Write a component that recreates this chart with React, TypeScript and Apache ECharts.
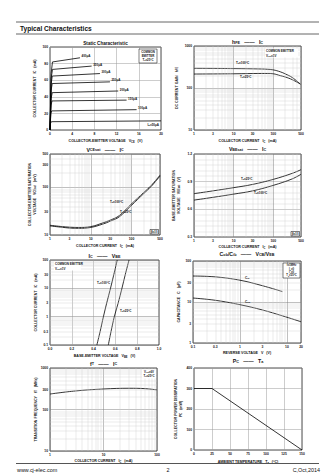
import React, { useEffect, useRef } from 'react';
import * as echarts from 'echarts';

const FONT = '"Liberation Sans", Arial, Helvetica, sans-serif';

// ---------- Fig.1 Static characteristic : VCE (V) vs IC (mA) ----------
const staticIbLabels = ['400μA', '350μA', '300μA', '250μA', '200μA', '150μA', '100μA', 'I{s|B}=50μA'];
const staticIb400 = [[0, 0], [0.2, 68], [0.45, 82], [5.4, 87]];
const staticIb350 = [[0, 0], [0.2, 62], [0.45, 73], [7.5, 77]];
const staticIb300 = [[0, 0], [0.2, 55], [0.4, 65], [9, 68]];
const staticIb250 = [[0, 0], [0.2, 48], [0.4, 56], [10.8, 58]];
const staticIb200 = [[0, 0], [0.2, 38], [0.4, 45], [12.3, 47]];
const staticIb150 = [[0, 0], [0.2, 30], [0.35, 35], [13.8, 36]];
const staticIb100 = [[0, 0], [0.15, 20], [0.3, 23], [15.6, 24.5]];
const staticIb50 = [[0, 0], [0.1, 8], [0.25, 10], [20, 11]];
const staticXTicks = [0, 4, 8, 12, 16, 20];
const staticYTicks = [0, 20, 40, 60, 80, 100];

// ---------- Fig.2 hFE vs IC ----------
const hfeIc = [1, 10, 50, 70, 100, 150, 200, 300, 480];
const hfeTa100 = [294, 290, 284, 280, 270, 243, 217, 178, 124];
const hfeTa25 = [215, 218, 222, 222, 218, 197, 183, 158, 124];
const hfeXTicks = [1, 3, 10, 30, 100, 500];
const hfeYTicks = [10, 100, 1000];

// ---------- Fig.3 VCEsat vs IC ----------
const vcesatIc = [1, 2, 3, 5, 10, 20, 30, 50, 100, 200, 300, 500];
const vcesatTa100 = [16, 15, 14.6, 14.4, 15, 18, 20.5, 25.5, 45, 78, 108, 180];
const vcesatTa25 = [15.5, 14.5, 14, 13.8, 14.4, 17, 19.5, 24, 42, 74, 103, 172];
const vcesatXTicks = [1, 3, 10, 30, 100, 500];
const vcesatYTicks = [10, 30, 100, 300, 500];

// ---------- Fig.4 VBEsat vs IC ----------
const vbesatIc = [1, 3, 10, 30, 100, 300, 500];
const vbesatTa25 = [0.77, 0.8, 0.835, 0.87, 0.925, 0.99, 1.03];
const vbesatTa100 = [0.7, 0.73, 0.765, 0.8, 0.86, 0.93, 0.98];
const vbesatXTicks = [1, 3, 10, 30, 100, 500];
const vbesatYTicks = [0.3, 0.6, 0.9, 1.2];

// ---------- Fig.5 IC vs VBE ----------
const vbeIc = [0.1, 0.3, 1, 3, 10, 30, 100];
const vbeTa100 = [0.43, 0.46, 0.49, 0.52, 0.555, 0.585, 0.617];
const vbeTa25 = [0.535, 0.56, 0.59, 0.625, 0.66, 0.69, 0.725];
const vbeXTicks = [0, 0.2, 0.4, 0.6, 0.8, 1.0];
const vbeYTicks = [0.1, 0.3, 1, 3, 10, 30, 100];

// ---------- Fig.6 Cob/Cib vs VCB/VEB ----------
const cibV = [0.1, 0.3, 1, 3, 8];
const cib = [43, 41, 34, 25, 18];
const cobV = [0.1, 0.3, 1, 3, 8, 20];
const cob = [12.5, 11, 8.6, 6.4, 4.6, 3.3];
const capXTicks = [0.1, 0.3, 1, 3, 10, 20];
const capYTicks = [1, 3, 10, 30, 100];

// ---------- Fig.7 fT vs IC ----------
const ftIc = [1, 3, 10, 30, 60, 100];
const ft = [236, 280, 312, 325, 318, 297];
const ftXTicks = [1, 10, 100];
const ftYTicks = [10, 100, 300, 1000];

// ---------- Fig.8 PC vs Ta ----------
const pcTa = [0, 25, 150];
const pc = [300, 300, 0];
const pcXTicks = [0, 25, 50, 75, 100, 125, 150];
const pcYTicks = [0, 100, 200, 300, 400];

const zip = (xs: number[], ys: number[]) => xs.map((x, i) => [x, ys[i]]);
const lg = (v: number) => {
  const r = Math.log10(v);
  const n = Math.round(r);
  return Math.abs(r - n) < 1e-9 ? n : r;
};

interface AxisDef { log: boolean; min: number; max: number; interval?: number; ticks: number[]; digits?: number; minor?: number; }
interface Curve { data: number[][]; smooth: number | boolean; }
interface Panel {
  box: { left: number; top: number; width: number; height: number };
  x: AxisDef; y: AxisDef; xName: string; yName: string; xGap: number; yGap: number;
  title: string; titleY: number; curves: Curve[];
}

const panels: Panel[] = [
  {
    box: { left: 50, top: 47, width: 111, height: 83 },
    x: { log: false, min: 0, max: 20, interval: 4, ticks: staticXTicks, digits: 0 },
    y: { log: false, min: 0, max: 100, interval: 20, ticks: staticYTicks, digits: 0 },
    xName: 'COLLECTOR-EMITTER VOLTAGE   V{s|CE}   (V)', yName: 'COLLECTOR CURRENT   I{s|C}   (mA)',
    xGap: 9, yGap: 13, title: 'Static Characteristic', titleY: 43.5,
    curves: [staticIb400, staticIb350, staticIb300, staticIb250, staticIb200, staticIb150, staticIb100, staticIb50].map((d) => ({ data: d, smooth: false })),
  },
  {
    box: { left: 194, top: 46, width: 107, height: 84 },
    x: { log: true, min: 1, max: 500, ticks: hfeXTicks },
    y: { log: true, min: 10, max: 1000, ticks: hfeYTicks },
    xName: 'COLLECTOR CURRENT   I{s|C}   (mA)', yName: 'DC CURRENT GAIN   h{s|FE}',
    xGap: 9, yGap: 15, title: 'h{s|FE}   ——   I{s|C}', titleY: 42,
    curves: [{ data: zip(hfeIc, hfeTa100), smooth: 0.4 }, { data: zip(hfeIc, hfeTa25), smooth: 0.4 }],
  },
  {
    box: { left: 50, top: 154, width: 110, height: 81 },
    x: { log: true, min: 1, max: 500, ticks: vcesatXTicks },
    y: { log: true, min: 10, max: 500, ticks: vcesatYTicks },
    xName: 'COLLECTOR CURRENT   I{s|C}   (mA)', yName: 'COLLECTOR-EMITTER SATURATION\nVOLTAGE   V{s|CEsat}   (mV)',
    xGap: 9, yGap: 13, title: 'V{s|CEsat}   ——   I{s|C}', titleY: 149.5,
    curves: [{ data: zip(vcesatIc, vcesatTa100), smooth: 0.4 }, { data: zip(vcesatIc, vcesatTa25), smooth: 0.4 }],
  },
  {
    box: { left: 194, top: 154, width: 107, height: 83 },
    x: { log: true, min: 1, max: 500, ticks: vbesatXTicks },
    y: { log: false, min: 0.3, max: 1.2, interval: 0.3, ticks: vbesatYTicks, digits: 1, minor: 5 },
    xName: 'COLLECTOR CURRENT   I{s|C}   (mA)', yName: 'BASE-EMITTER SATURATION\nVOLTAGE   V{s|BEsat}   (V)',
    xGap: 8, yGap: 13, title: 'V{s|BEsat}   ——   I{s|C}', titleY: 149,
    curves: [{ data: zip(vbesatIc, vbesatTa25), smooth: 0.4 }, { data: zip(vbesatIc, vbesatTa100), smooth: 0.4 }],
  },
  {
    box: { left: 50, top: 260, width: 109, height: 85 },
    x: { log: false, min: 0, max: 1.0, interval: 0.2, ticks: vbeXTicks, digits: 1 },
    y: { log: true, min: 0.1, max: 100, ticks: vbeYTicks },
    xName: 'BASE-EMITTER VOLTAGE   V{s|BE}   (V)', yName: 'COLLECTOR CURRENT   I{s|C}   (mA)',
    xGap: 9, yGap: 12, title: 'I{s|C}   ——   V{s|BE}', titleY: 256,
    curves: [{ data: zip(vbeTa100, vbeIc), smooth: 0.3 }, { data: zip(vbeTa25, vbeIc), smooth: 0.3 }],
  },
  {
    box: { left: 193, top: 261, width: 108, height: 82 },
    x: { log: true, min: 0.1, max: 20, ticks: capXTicks },
    y: { log: true, min: 1, max: 100, ticks: capYTicks },
    xName: 'REVERSE VOLTAGE   V   (V)', yName: 'CAPACITANCE   C   (pF)',
    xGap: 8, yGap: 12, title: 'C{s|ob}/C{s|ib}   ——   V{s|CB}/V{s|EB}', titleY: 254,
    curves: [{ data: zip(cibV, cib), smooth: 0.4 }, { data: zip(cobV, cob), smooth: 0.4 }],
  },
  {
    box: { left: 50, top: 368, width: 107, height: 83 },
    x: { log: true, min: 1, max: 100, ticks: ftXTicks },
    y: { log: true, min: 10, max: 1000, ticks: ftYTicks },
    xName: 'COLLECTOR CURRENT   I{s|C}   (mA)', yName: 'TRANSITION FREQUENCY   f{s|T}   (MHz)',
    xGap: 8, yGap: 12, title: 'f{s|T}   ——   I{s|C}', titleY: 363.5,
    curves: [{ data: zip(ftIc, ft), smooth: 0.4 }],
  },
  {
    box: { left: 194, top: 368, width: 108, height: 82 },
    x: { log: false, min: 0, max: 150, interval: 25, ticks: pcXTicks, digits: 0 },
    y: { log: false, min: 0, max: 400, interval: 100, ticks: pcYTicks, digits: 0 },
    xName: 'AMBIENT TEMPERATURE   T{s|a}   (°C)', yName: 'COLLECTOR POWER DISSIPATION\nP{s|C}   (mW)',
    xGap: 10, yGap: 11, title: 'P{s|C}   ——   T{s|a}', titleY: 361,
    curves: [{ data: zip(pcTa, pc), smooth: false }],
  },
];

const tv = (a: AxisDef, v: number) => (a.log ? lg(v) : v);
const fmt = (a: AxisDef, v: number) => (a.digits !== undefined ? v.toFixed(a.digits) : String(v));

const minorLogValues = (a: AxisDef) => {
  const out: number[] = [];
  if (!a.log) return out;
  const d0 = Math.floor(Math.log10(a.min) + 1e-9);
  const d1 = Math.ceil(Math.log10(a.max) - 1e-9);
  for (let d = d0; d <= d1; d++) {
    for (let k = 2; k <= 9; k++) {
      const v = k * Math.pow(10, d);
      if (v > a.min * 1.0001 && v < a.max * 0.9999) out.push(v);
    }
  }
  return out;
};

const rich = (size: number) => ({
  s: { fontSize: size * 0.72, fontWeight: 'bold', fontFamily: FONT, fill: '#111', color: '#111', verticalAlign: 'bottom' },
});

const txt = (x: number, y: number, text: string, o: { size?: number; align?: string; va?: string; bold?: boolean } = {}) => {
  const size = o.size ?? 3.6;
  return {
    type: 'text', x, y, z: 11, silent: true,
    style: {
      text, fill: '#111', fontSize: size, fontWeight: o.bold === false ? 'normal' : 'bold', fontFamily: FONT,
      align: o.align ?? 'left', verticalAlign: o.va ?? 'middle', rich: rich(size),
    },
  };
};
const box = (x: number, y: number, w: number, h: number, stroke: boolean) => ({
  type: 'rect', z: 10, silent: true, shape: { x, y, width: w, height: h },
  style: { fill: '#fff', stroke: stroke ? '#000' : 'none', lineWidth: 0.5 },
});
const hline = (x1: number, x2: number, y: number, w: number) => ({
  type: 'line', z: 10, silent: true, shape: { x1, y1: y, x2, y2: y }, style: { stroke: '#555', lineWidth: w },
});

export default function App() {
  const ref = useRef<HTMLDivElement>(null);
  useEffect(() => {
    const el = ref.current;
    if (!el) return;
    const chart = echarts.init(el, null, { renderer: 'svg' });
    const grid: any[] = [];
    const xAxis: any[] = [];
    const yAxis: any[] = [];
    const series: any[] = [];
    const nameStyle = { fontSize: 3.6, fontWeight: 'bold', fontFamily: FONT, color: '#111', rich: rich(3.6), lineHeight: 4.5 };
    const axisOpt = (a: AxisDef, i: number, name: string, gap: number) => ({
      type: 'value', gridIndex: i,
      min: a.log ? lg(a.min) : a.min, max: a.log ? lg(a.max) : a.max, interval: a.log ? 1 : a.interval,
      axisLine: { show: false }, axisTick: { show: false }, axisLabel: { show: false },
      splitLine: { show: true, lineStyle: { color: a.log ? '#808080' : '#9a9a9a', width: 0.5 } },
      minorTick: { show: false, splitNumber: a.minor || 5 },
      minorSplitLine: { show: !!a.minor, lineStyle: { color: '#cccccc', width: 0.4 } },
      name, nameLocation: 'middle', nameGap: gap, nameTextStyle: nameStyle,
    });
    panels.forEach((p, i) => {
      grid.push({ ...p.box, show: true, borderColor: '#000', borderWidth: 0.7, backgroundColor: '#fff' });
      xAxis.push(axisOpt(p.x, i, p.xName, p.xGap));
      yAxis.push(axisOpt(p.y, i, p.yName, p.yGap));
      const mx = minorLogValues(p.x);
      const my = minorLogValues(p.y);
      if (mx.length || my.length) {
        series.push({
          type: 'line', xAxisIndex: i, yAxisIndex: i, data: [], z: 1, silent: true,
          markLine: {
            silent: true, symbol: ['none', 'none'], label: { show: false },
            lineStyle: { color: '#cccccc', width: 0.4, type: 'solid' },
            data: [...mx.map((v) => ({ xAxis: lg(v) })), ...my.map((v) => ({ yAxis: lg(v) }))],
          },
        });
      }
      p.curves.forEach((c) => {
        series.push({
          type: 'line', xAxisIndex: i, yAxisIndex: i, z: 3, silent: true, symbol: 'none', smooth: c.smooth,
          data: c.data.map(([a, b]) => [tv(p.x, a), tv(p.y, b)]),
          lineStyle: { color: '#000', width: 0.8 },
        });
      });
    });
    chart.setOption({
      animation: false, backgroundColor: '#fff',
      textStyle: { fontFamily: FONT },
      grid, xAxis, yAxis, series,
    });

    const g: any[] = [];
    // page header & footer
    g.push(hline(16, 319, 22, 0.9), hline(16, 319, 34, 0.9));
    g.push(txt(20, 28, 'Typical Characteristics', { size: 6.6 }));
    g.push(hline(16, 319, 463.5, 1.2));
    g.push(txt(17, 470, 'www.cj-elec.com', { size: 5.4, bold: false }));
    g.push(txt(168, 470, '2', { size: 5.4, bold: false, align: 'center' }));
    g.push(txt(320, 470, 'C,Oct,2014', { size: 5.4, bold: false, align: 'right' }));

    panels.forEach((p, i) => {
      const x0 = tv(p.x, p.x.min);
      const y0 = tv(p.y, p.y.min);
      p.x.ticks.forEach((v) => {
        const pt = chart.convertToPixel({ gridIndex: i } as any, [tv(p.x, v), y0]) as number[];
        g.push(txt(pt[0], pt[1] + 2.2, fmt(p.x, v), { size: 3.3, align: 'center', va: 'top' }));
      });
      p.y.ticks.forEach((v) => {
        const pt = chart.convertToPixel({ gridIndex: i } as any, [x0, tv(p.y, v)]) as number[];
        g.push(txt(pt[0] - 2, pt[1], fmt(p.y, v), { size: 3.3, align: 'right', va: 'middle' }));
      });
      g.push(txt(p.box.left + p.box.width / 2, p.titleY, p.title, { size: i === 0 ? 4.6 : 5.2, align: 'center' }));
    });

    // Fig.1 base-current labels at the end of each curve
    panels[0].curves.forEach((c, k) => {
      const end = c.data[c.data.length - 1];
      const pt = chart.convertToPixel({ gridIndex: 0 } as any, end) as number[];
      if (k < 7) g.push(txt(pt[0] + 1.5, pt[1] - 1.8, staticIbLabels[k], { size: 3 }));
      else g.push(txt(pt[0] - 2, pt[1] + 4, staticIbLabels[k], { size: 3, align: 'right' }));
    });
    g.push(box(139, 49, 18, 14, true));
    g.push(txt(148, 52, 'COMMON', { size: 2.9, align: 'center' }));
    g.push(txt(148, 56, 'EMITTER', { size: 2.9, align: 'center' }));
    g.push(txt(148, 60, 'T{s|a}=25°C', { size: 2.9, align: 'center' }));

    // Fig.2
    g.push(box(265, 48.5, 33, 9, false));
    g.push(txt(266, 51, 'COMMON EMITTER', { size: 3 }));
    g.push(txt(266, 55.5, 'V{s|CE}=1V', { size: 3 }));
    g.push(txt(236, 63, 'T{s|a}=100°C', { size: 3 }));
    g.push(txt(240, 76.5, 'T{s|a}=25°C', { size: 3 }));

    // Fig.3
    g.push(txt(110, 202, 'T{s|a}=100°C', { size: 3 }));
    g.push(txt(120, 212, 'T{s|a}=25°C', { size: 3 }));
    g.push(box(150, 229.5, 8.5, 4.5, true));
    g.push(txt(154.2, 231.8, 'β=10', { size: 2.8, align: 'center' }));

    // Fig.4
    g.push(txt(241, 179, 'T{s|a}=25°C', { size: 3 }));
    g.push(txt(254, 193, 'T{s|a}=100°C', { size: 3 }));
    g.push(box(291, 231.5, 8.5, 4.5, true));
    g.push(txt(295.2, 233.8, 'β=10', { size: 2.8, align: 'center' }));

    // Fig.5
    g.push(box(54, 261.5, 27, 9, false));
    g.push(txt(55, 264, 'COMMON EMITTER', { size: 3 }));
    g.push(txt(55, 268.5, 'V{s|CE}=1V', { size: 3 }));
    g.push(txt(97, 283, 'T{s|a}=100°C', { size: 3 }));
    g.push(txt(120, 311, 'T{s|a}=25°C', { size: 3 }));

    // Fig.6
    g.push(box(283, 263, 17, 15, true));
    g.push(txt(291.5, 266, 'f=1MHz', { size: 2.7, align: 'center' }));
    g.push(txt(291.5, 269.3, 'I{s|E}=0', { size: 2.7, align: 'center' }));
    g.push(txt(291.5, 272.6, 'I{s|C}=0', { size: 2.7, align: 'center' }));
    g.push(txt(291.5, 275.9, 'T{s|a}=25°C', { size: 2.7, align: 'center' }));
    g.push(txt(245, 277.5, 'C{s|ib}', { size: 3.2 }));
    g.push(txt(245, 301.5, 'C{s|ob}', { size: 3.2 }));

    // Fig.7
    g.push(box(142, 369.5, 14, 9, false));
    g.push(txt(149, 372, 'V{s|CE}=6V', { size: 2.9, align: 'center' }));
    g.push(txt(149, 376, 'T{s|a}=25°C', { size: 2.9, align: 'center' }));

    chart.setOption({ graphic: { elements: g } });
    return () => chart.dispose();
  }, []);
  return (
    <div
      ref={ref}
      style={{ position: 'fixed', left: 0, top: 0, width: 336, height: 475, background: '#fff' }}
    />
  );
}
